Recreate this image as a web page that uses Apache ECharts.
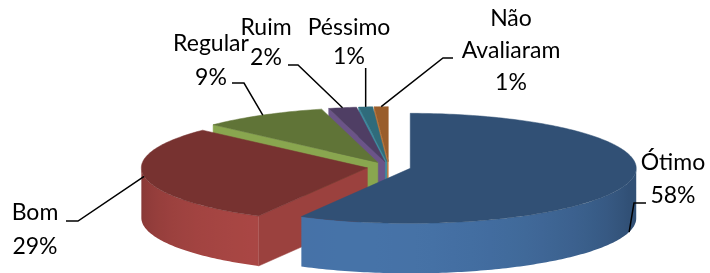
<!DOCTYPE html>
<html>
<head>
<meta charset="utf-8">
<script src="https://cdn.jsdelivr.net/npm/echarts@6/dist/echarts.min.js"></script>
<style>
html,body{margin:0;padding:0;background:#fff;}
#chart{width:710px;height:273px;}
</style>
</head>
<body>
<div id="chart"></div>
<script>
// ---- data ----
const categories = ['Ótimo', 'Bom', 'Regular', 'Ruim', 'Péssimo', 'Não Avaliaram'];
const values = [58, 29, 9, 2, 1, 1];
const labelNames = [['Ótimo'], ['Bom'], ['Regular'], ['Ruim'], ['Péssimo'], ['Não', 'Avaliaram']];

// ---- layout / style ----
const PIE = { cx: 389, cy: 167, rx: 226, ry: 55, h: 50, explode: 0.097 };
const baseColors = ['#4F81BD', '#C0504D', '#9BBB59', '#8064A2', '#4BACC6', '#F79646'];
const FONT = '23px Lato';
const LABELS = [
  { x: 673, y: 163, lh: 33, leader: [[646, 203], [634, 203]], hit: 1 },
  { x: 35, y: 213, lh: 34, leader: [[66, 221], [78, 221]], hit: 0 },
  { x: 211, y: 44, lh: 34, leader: [[232, 83], [244, 83]], hit: 0 },
  { x: 266, y: 28, lh: 30, leader: [[288, 65], [298, 65]], hit: 0 },
  { x: 349, y: 28, lh: 29, leaderVertical: 68, hit: 0 },
  { x: 511, y: 19, lh: 32, leader: [[453, 58], [443, 58]], hit: 0 }
];

const total = values.reduce((a, b) => a + b, 0);
const cum = [];
values.reduce((acc, v, i) => { cum[i] = acc; return acc + v; }, 0);

function shade(hex, f) {
  const n = parseInt(hex.slice(1), 16);
  const r = Math.min(255, Math.round(((n >> 16) & 255) * f));
  const g = Math.min(255, Math.round(((n >> 8) & 255) * f));
  const b = Math.min(255, Math.round((n & 255) * f));
  return 'rgb(' + r + ',' + g + ',' + b + ')';
}
const L = (function () { const x = -0.25, z = -0.97, m = Math.hypot(x, z); return [x / m, z / m]; })();
function rad(a) { return a * Math.PI / 180; }
function proj(o, ang, r, hf) {
  const a = rad(ang);
  const X = o[0] + r * Math.sin(a), Z = o[1] + r * Math.cos(a);
  return [PIE.cx + PIE.rx * X, PIE.cy - PIE.ry * Z + PIE.h * hf];
}
function arcPts(o, a0, a1, hf) {
  const pts = [];
  const n = Math.max(2, Math.ceil(Math.abs(a1 - a0) / 1));
  for (let k = 0; k <= n; k++) pts.push(proj(o, a0 + (a1 - a0) * k / n, 1, hf));
  return pts;
}
function clamp01(x) { return Math.max(0, Math.min(1, x)); }

function renderItem(params, api) {
  const i = params.dataIndex;
  const v = api.value(0);
  const a0 = cum[i] / total * 360;
  const a1 = a0 + v / total * 360;
  const mid = (a0 + a1) / 2;
  const o = [PIE.explode * Math.sin(rad(mid)), PIE.explode * Math.cos(rad(mid))];
  const base = baseColors[i];
  const children = [];

  // outer wall (front-facing part 90..270)
  const w0 = Math.max(a0, 90), w1 = Math.min(a1, 270);
  if (w1 > w0) {
    const top = arcPts(o, w0, w1, 0);
    const bot = arcPts(o, w1, w0, 1);
    const xs = top.map(p => p[0]);
    const xmin = Math.min.apply(null, xs), xmax = Math.max.apply(null, xs);
    const stops = [];
    const ns = 24;
    for (let k = 0; k <= ns; k++) {
      const a = w0 + (w1 - w0) * k / ns;
      const nx = Math.sin(rad(a)), nz = Math.cos(rad(a));
      const d = nx * L[0] + nz * L[1];
      const f = 0.62 + 0.27 * Math.max(0, d);
      const x = proj(o, a, 1, 0)[0];
      stops.push({ offset: clamp01((x - xmin) / (xmax - xmin || 1)), color: shade(base, f) });
    }
    stops.sort((p, q) => p.offset - q.offset);
    const cand = [w0, w1];
    if (w0 <= 180 && w1 >= 180) cand.push(180);
    const zFront = Math.min.apply(null, cand.map(a => o[1] + Math.cos(rad(a))));
    const grad = new echarts.graphic.LinearGradient(xmin, 0, xmax, 0, stops, true);
    children.push({
      type: 'polygon', z2: 50 + 20 * (-zFront),
      shape: { points: top.concat(bot) },
      style: { fill: grad, stroke: null }
    });
  }

  // radial cut faces
  [[a0, a0 - 90], [a1, a1 + 90]].forEach(function (e) {
    const na = e[1];
    const nz = Math.cos(rad(na)), nx = Math.sin(rad(na));
    if (nz < -1e-6) {
      const c0 = proj(o, e[0], 0, 0), c1 = proj(o, e[0], 1, 0), c2 = proj(o, e[0], 1, 1), c3 = proj(o, e[0], 0, 1);
      const d = nx * L[0] + nz * L[1];
      const col = shade(base, 0.78 + 0.12 * d);
      const zMid = o[1] + 0.5 * Math.cos(rad(e[0]));
      children.push({
        type: 'polygon', z2: 50 + 20 * (-zMid),
        shape: { points: [c0, c1, c2, c3] },
        style: { fill: col, stroke: col, lineWidth: 0.5 }
      });
    }
  });

  // top face
  const topCol = shade(base, 0.62);
  children.push({
    type: 'polygon', z2: 100 + i,
    shape: { points: [proj(o, 0, 0, 0)].concat(arcPts(o, a0, a1, 0)) },
    style: { fill: topCol, stroke: topCol, lineWidth: 0.5 }
  });

  // label + leader line
  const lab = LABELS[i];
  const lines = labelNames[i].concat([Math.round(v / total * 100) + '%']);
  lines.forEach(function (t, k) {
    children.push({
      type: 'text', z2: 200,
      style: { text: t, x: lab.x, y: lab.y + k * lab.lh, align: 'center', verticalAlign: 'middle', font: FONT, fill: '#000' }
    });
  });
  const hitP = proj(o, mid, 1, lab.hit);
  let pts;
  if (lab.leaderVertical != null) pts = [[hitP[0], lab.leaderVertical], hitP];
  else pts = lab.leader.concat([hitP]);
  children.push({
    type: 'polyline', z2: 150,
    shape: { points: pts },
    style: { stroke: '#000', lineWidth: 1.5, fill: null }
  });

  return { type: 'group', children: children };
}

const chart = echarts.init(document.getElementById('chart'), null, { renderer: 'canvas' });
chart.setOption({
  animation: false,
  backgroundColor: '#ffffff',
  series: [{
    type: 'custom',
    coordinateSystem: 'none',
    renderItem: renderItem,
    data: values.map((v, i) => ({ name: categories[i], value: v }))
  }]
});
</script>
</body>
</html>
